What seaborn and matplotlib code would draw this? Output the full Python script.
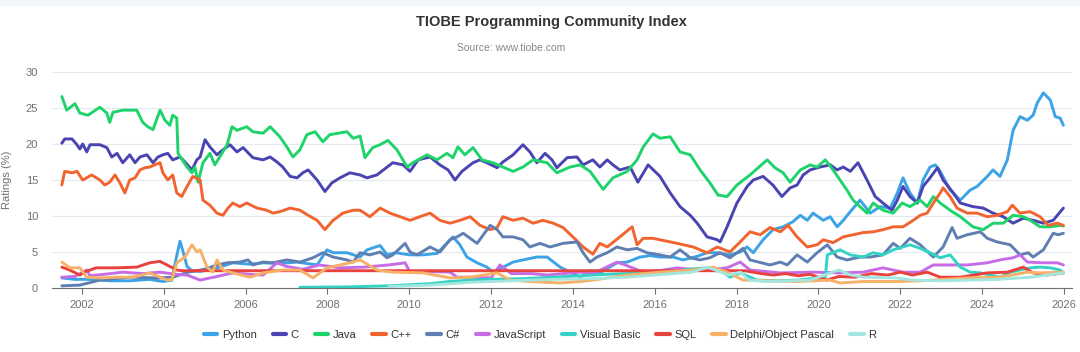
import matplotlib
matplotlib.use("Agg")
import matplotlib.pyplot as plt
from matplotlib.lines import Line2D
from matplotlib.patches import Rectangle
import seaborn as sns
import pandas as pd

# ratings (%), x in fractional years
python_years = [2001.51, 2001.83, 2002.20, 2002.68, 2003.17, 2003.66, 2003.98, 2004.20, 2004.30, 2004.40,
                2004.50, 2004.57, 2004.69, 2004.89, 2005.13, 2005.37, 2005.69, 2006.11, 2006.43, 2006.80,
                2007.26, 2007.75, 2007.99, 2008.14, 2008.48, 2008.80, 2008.97, 2009.29, 2009.46, 2009.66,
                2010.02, 2010.34, 2010.68, 2010.95, 2011.07, 2011.24, 2011.41, 2011.66, 2011.90, 2012.05,
                2012.54, 2012.78, 2013.12, 2013.37, 2013.69, 2013.93, 2014.18, 2014.42, 2014.66, 2015.08,
                2015.33, 2015.64, 2015.89, 2016.13, 2016.45, 2016.69, 2017.04, 2017.28, 2017.53, 2017.84,
                2018.09, 2018.26, 2018.41, 2018.65, 2018.89, 2019.14, 2019.38, 2019.56, 2019.73, 2019.87,
                2020.12, 2020.29, 2020.46, 2020.61, 2020.78, 2021.02, 2021.27, 2021.51, 2021.76, 2021.93,
                2022.07, 2022.24, 2022.42, 2022.56, 2022.73, 2022.86, 2022.98, 2023.22, 2023.47, 2023.71,
                2023.88, 2024.13, 2024.27, 2024.44, 2024.62, 2024.76, 2024.93, 2025.11, 2025.25, 2025.35,
                2025.50, 2025.67, 2025.79, 2025.91, 2025.99]
python_vals = [1.4, 1.2, 1.2, 1.0, 1.0, 1.2, 0.9, 1.1, 4.0, 6.5,
               4.5, 3.0, 2.4, 2.3, 2.6, 2.9, 3.5, 3.3, 3.5, 3.4,
               3.6, 3.2, 5.3, 4.9, 4.9, 4.3, 5.3, 5.9, 4.6, 4.9,
               4.6, 4.6, 4.8, 6.4, 7.1, 6.0, 4.3, 3.5, 2.9, 2.2,
               3.6, 3.9, 4.3, 4.3, 2.9, 2.2, 1.5, 2.4, 2.1, 3.5,
               3.6, 4.3, 4.5, 4.3, 4.3, 3.9, 4.4, 4.9, 4.9, 4.6,
               5.0, 5.7, 4.9, 6.7, 8.1, 8.5, 9.2, 10.1, 9.4, 10.4,
               9.4, 9.9, 8.5, 9.4, 10.6, 12.2, 10.4, 11.3, 11.1, 13.2,
               15.3, 13.2, 11.8, 15.0, 16.8, 17.1, 16.2, 13.6, 12.2, 13.6,
               14.1, 15.5, 16.4, 15.5, 17.8, 21.9, 23.8, 23.3, 24.0, 25.7,
               27.1, 26.1, 23.8, 23.6, 22.6]

c_years = [2001.51, 2001.58, 2001.76, 2001.88, 2001.95, 2002.02, 2002.12, 2002.20, 2002.44, 2002.61,
           2002.73, 2002.86, 2003.00, 2003.17, 2003.30, 2003.42, 2003.59, 2003.74, 2003.86, 2003.98,
           2004.10, 2004.22, 2004.40, 2004.52, 2004.69, 2004.81, 2004.89, 2005.01, 2005.13, 2005.30,
           2005.45, 2005.62, 2005.79, 2005.94, 2006.18, 2006.43, 2006.60, 2006.77, 2006.91, 2007.09,
           2007.26, 2007.40, 2007.53, 2007.75, 2007.94, 2008.11, 2008.31, 2008.55, 2008.80, 2008.97,
           2009.21, 2009.46, 2009.60, 2009.85, 2010.02, 2010.22, 2010.51, 2010.75, 2010.95, 2011.12,
           2011.29, 2011.56, 2011.73, 2011.90, 2012.15, 2012.29, 2012.54, 2012.78, 2012.95, 2013.12,
           2013.32, 2013.49, 2013.61, 2013.86, 2014.10, 2014.25, 2014.49, 2014.66, 2014.84, 2014.98,
           2015.15, 2015.40, 2015.59, 2015.84, 2016.13, 2016.38, 2016.62, 2016.87, 2017.04, 2017.28,
           2017.53, 2017.60, 2017.77, 2018.01, 2018.26, 2018.41, 2018.65, 2018.89, 2019.11, 2019.31,
           2019.48, 2019.63, 2019.80, 2020.04, 2020.29, 2020.46, 2020.61, 2020.78, 2020.97, 2021.19,
           2021.39, 2021.58, 2021.80, 2021.93, 2022.07, 2022.24, 2022.42, 2022.56, 2022.73, 2022.91,
           2023.05, 2023.30, 2023.47, 2023.78, 2024.03, 2024.27, 2024.52, 2024.76, 2025.01, 2025.25,
           2025.50, 2025.74, 2025.99]
c_vals = [20.1, 20.7, 20.7, 19.9, 19.3, 20.0, 18.9, 19.9, 19.9, 19.5,
          18.2, 18.7, 17.4, 18.5, 17.4, 18.2, 18.5, 17.4, 18.2, 18.5,
          18.7, 17.8, 18.2, 17.5, 16.4, 17.8, 18.2, 20.6, 19.6, 18.5,
          19.2, 19.9, 18.9, 19.5, 18.1, 17.8, 18.2, 17.5, 16.8, 15.5,
          15.3, 16.0, 16.4, 15.0, 13.4, 14.6, 15.3, 16.0, 15.7, 15.3,
          15.7, 16.8, 17.4, 17.1, 16.2, 17.8, 18.2, 17.1, 16.4, 15.0,
          16.2, 17.4, 17.8, 17.4, 16.7, 17.5, 18.5, 19.9, 18.9, 17.4,
          18.7, 17.8, 16.7, 18.1, 18.2, 17.1, 17.8, 16.8, 17.8, 17.1,
          16.4, 16.8, 14.7, 17.1, 15.5, 13.2, 11.3, 10.1, 9.0, 7.1,
          6.7, 6.4, 8.5, 11.8, 14.1, 15.0, 15.5, 14.3, 12.7, 13.9,
          14.3, 15.7, 16.4, 16.8, 17.1, 16.4, 16.8, 16.2, 17.4, 15.0,
          12.7, 11.8, 10.8, 12.2, 14.1, 12.7, 11.8, 14.1, 15.3, 16.7,
          15.0, 13.2, 11.8, 11.3, 11.1, 10.4, 9.9, 9.0, 9.7, 9.4,
          9.0, 9.4, 11.1]

java_years = [2001.51, 2001.63, 2001.83, 2001.95, 2002.15, 2002.44, 2002.61, 2002.68, 2002.76, 2003.00,
              2003.34, 2003.49, 2003.61, 2003.74, 2003.91, 2004.03, 2004.15, 2004.22, 2004.32, 2004.35,
              2004.57, 2004.69, 2004.76, 2004.84, 2004.96, 2005.13, 2005.25, 2005.37, 2005.55, 2005.67,
              2005.79, 2006.03, 2006.18, 2006.43, 2006.60, 2006.84, 2007.01, 2007.16, 2007.33, 2007.50,
              2007.70, 2007.89, 2008.06, 2008.48, 2008.63, 2008.80, 2008.92, 2009.11, 2009.29, 2009.48,
              2009.70, 2009.95, 2010.09, 2010.44, 2010.68, 2010.92, 2011.07, 2011.19, 2011.36, 2011.56,
              2011.78, 2012.05, 2012.29, 2012.54, 2012.78, 2013.03, 2013.37, 2013.61, 2013.93, 2014.18,
              2014.42, 2014.74, 2014.98, 2015.33, 2015.57, 2015.72, 2015.96, 2016.13, 2016.38, 2016.62,
              2016.87, 2017.11, 2017.35, 2017.55, 2017.77, 2018.01, 2018.33, 2018.75, 2018.94, 2019.14,
              2019.31, 2019.56, 2019.80, 2019.97, 2020.17, 2020.36, 2020.70, 2020.85, 2021.02, 2021.19,
              2021.34, 2021.58, 2021.83, 2022.05, 2022.24, 2022.49, 2022.66, 2022.81, 2022.98, 2023.22,
              2023.47, 2023.78, 2024.03, 2024.27, 2024.52, 2024.76, 2025.01, 2025.18, 2025.42, 2025.67,
              2025.91, 2025.99]
java_vals = [26.6, 24.7, 25.6, 24.3, 24.0, 25.1, 24.3, 23.0, 24.4, 24.7,
             24.7, 23.0, 22.4, 22.0, 24.7, 23.3, 22.6, 24.0, 23.6, 18.7,
             16.8, 16.0, 16.8, 14.7, 17.4, 18.7, 17.1, 18.2, 19.9, 22.4,
             21.9, 22.4, 21.7, 21.5, 22.4, 21.0, 19.6, 18.2, 19.2, 21.3,
             21.7, 20.3, 21.3, 21.7, 20.8, 21.1, 18.1, 19.5, 19.9, 20.5,
             19.2, 16.8, 17.4, 18.5, 17.8, 18.7, 18.1, 19.6, 18.5, 19.5,
             17.8, 17.4, 16.8, 16.2, 16.8, 17.8, 17.4, 16.0, 16.8, 17.1,
             16.2, 13.7, 15.3, 16.2, 17.8, 19.6, 21.4, 20.8, 21.0, 18.9,
             18.5, 16.4, 14.6, 12.9, 12.7, 14.3, 15.7, 17.8, 16.7, 16.0,
             14.7, 16.4, 17.1, 16.8, 17.8, 16.4, 13.6, 12.2, 11.3, 10.4,
             11.8, 10.8, 10.4, 11.8, 11.3, 12.2, 11.3, 12.7, 11.8, 10.8,
             9.9, 8.5, 8.1, 9.0, 9.0, 10.1, 9.9, 9.4, 8.5, 8.5,
             8.7, 8.6]

cpp_years = [2001.51, 2001.58, 2001.76, 2001.88, 2002.02, 2002.24, 2002.44, 2002.56, 2002.68, 2002.81,
             2002.93, 2003.05, 2003.17, 2003.30, 2003.42, 2003.54, 2003.66, 2003.78, 2003.91, 2003.98,
             2004.10, 2004.22, 2004.32, 2004.44, 2004.57, 2004.71, 2004.89, 2004.96, 2005.13, 2005.30,
             2005.45, 2005.57, 2005.69, 2005.86, 2006.03, 2006.28, 2006.52, 2006.67, 2006.84, 2007.09,
             2007.33, 2007.53, 2007.75, 2007.94, 2008.14, 2008.38, 2008.63, 2008.80, 2009.04, 2009.29,
             2009.53, 2009.78, 2010.02, 2010.26, 2010.51, 2010.75, 2011.00, 2011.24, 2011.49, 2011.73,
             2011.98, 2012.15, 2012.29, 2012.54, 2012.78, 2013.03, 2013.27, 2013.52, 2013.76, 2014.00,
             2014.25, 2014.49, 2014.66, 2014.84, 2015.15, 2015.45, 2015.57, 2015.72, 2015.96, 2016.38,
             2016.55, 2016.94, 2017.28, 2017.53, 2017.84, 2018.09, 2018.33, 2018.58, 2018.82, 2019.07,
             2019.26, 2019.48, 2019.73, 2019.97, 2020.12, 2020.36, 2020.61, 2020.85, 2021.10, 2021.34,
             2021.58, 2021.83, 2022.07, 2022.32, 2022.49, 2022.66, 2022.81, 2022.98, 2023.05, 2023.22,
             2023.39, 2023.64, 2023.88, 2024.13, 2024.37, 2024.62, 2024.74, 2024.93, 2025.18, 2025.42,
             2025.62, 2025.84, 2025.99]
cpp_vals = [14.3, 16.2, 16.0, 16.2, 15.0, 15.7, 15.0, 14.3, 14.7, 15.7,
            14.6, 13.2, 15.0, 15.3, 16.4, 16.7, 16.8, 17.1, 17.4, 16.0,
            15.0, 15.7, 13.2, 12.7, 14.1, 15.5, 15.0, 12.2, 11.5, 10.4,
            10.1, 11.1, 11.8, 11.3, 11.8, 11.1, 10.8, 10.4, 10.6, 11.1,
            10.8, 10.1, 9.4, 8.1, 9.4, 10.4, 10.8, 10.8, 9.9, 11.1,
            10.4, 9.9, 9.4, 9.9, 10.4, 9.4, 9.0, 9.4, 9.9, 8.7,
            8.1, 8.4, 9.9, 9.4, 9.7, 9.0, 9.4, 9.0, 8.4, 7.1,
            5.7, 4.7, 6.2, 5.7, 7.1, 8.5, 6.0, 6.9, 6.9, 6.4,
            6.2, 5.7, 4.9, 5.7, 5.0, 6.4, 7.8, 7.4, 8.4, 7.8,
            8.7, 7.1, 5.7, 6.0, 6.7, 6.3, 7.1, 7.4, 7.7, 7.8,
            8.1, 8.5, 8.5, 9.4, 10.1, 10.4, 11.8, 13.2, 13.9, 12.7,
            11.1, 10.4, 10.4, 9.9, 10.1, 10.6, 11.5, 10.4, 10.6, 9.9,
            8.7, 9.0, 8.7]

csharp_years = [2001.51, 2001.95, 2002.44, 2003.17, 2003.86, 2004.22, 2004.60, 2005.00, 2005.30, 2005.55,
                2005.86, 2006.06, 2006.18, 2006.43, 2006.67, 2007.01, 2007.33, 2007.65, 2007.89, 2008.14,
                2008.48, 2008.63, 2008.80, 2009.04, 2009.29, 2009.46, 2009.60, 2009.90, 2010.02, 2010.19,
                2010.51, 2010.75, 2011.00, 2011.17, 2011.32, 2011.66, 2011.98, 2012.15, 2012.29, 2012.54,
                2012.78, 2012.95, 2013.20, 2013.44, 2013.76, 2014.10, 2014.25, 2014.42, 2014.59, 2014.84,
                2015.08, 2015.33, 2015.57, 2015.81, 2016.13, 2016.38, 2016.62, 2016.87, 2017.11, 2017.35,
                2017.60, 2017.84, 2018.16, 2018.33, 2018.82, 2019.07, 2019.24, 2019.48, 2019.73, 2019.97,
                2020.22, 2020.46, 2020.70, 2021.02, 2021.27, 2021.58, 2021.83, 2022.00, 2022.24, 2022.49,
                2022.81, 2023.05, 2023.27, 2023.39, 2023.64, 2023.96, 2024.13, 2024.37, 2024.69, 2024.93,
                2025.13, 2025.25, 2025.50, 2025.74, 2025.86, 2025.99]
csharp_vals = [0.3, 0.4, 1.1, 1.5, 1.4, 1.5, 2.2, 2.6, 3.2, 3.5,
               3.6, 3.9, 3.2, 3.6, 3.5, 3.9, 3.6, 4.2, 4.9, 4.3,
               3.9, 3.6, 4.9, 4.6, 5.0, 4.2, 4.6, 6.2, 5.0, 4.6,
               5.7, 5.0, 6.7, 7.1, 7.6, 6.2, 8.7, 8.1, 7.1, 7.1,
               6.7, 5.7, 6.2, 5.7, 6.2, 6.4, 4.9, 3.6, 4.3, 4.9,
               5.7, 5.3, 5.5, 4.9, 4.6, 4.3, 5.3, 4.2, 3.9, 4.2,
               4.9, 4.2, 5.5, 3.9, 3.2, 3.6, 3.2, 4.6, 3.6, 4.9,
               6.0, 4.3, 3.9, 4.3, 4.3, 4.6, 6.2, 5.5, 6.9, 6.0,
               4.3, 5.7, 8.4, 6.9, 7.4, 7.8, 6.9, 6.4, 6.0, 4.6,
               4.9, 4.3, 5.3, 7.6, 7.4, 7.6]

js_years = [2001.51, 2001.83, 2002.12, 2002.20, 2002.70, 2003.00, 2003.50, 2003.91, 2004.30, 2004.57,
            2004.89, 2005.30, 2005.69, 2006.10, 2006.43, 2006.77, 2007.00, 2007.40, 2007.80, 2008.30,
            2008.90, 2009.50, 2009.90, 2010.02, 2010.50, 2011.00, 2011.17, 2011.50, 2012.00, 2012.22,
            2012.50, 2013.00, 2013.37, 2014.18, 2014.50, 2015.08, 2015.28, 2015.72, 2016.10, 2016.55,
            2017.04, 2017.43, 2017.77, 2018.09, 2018.33, 2019.07, 2019.87, 2020.53, 2021.10, 2021.58,
            2022.07, 2022.49, 2022.81, 2023.22, 2023.64, 2024.13, 2024.44, 2024.76, 2024.93, 2025.11,
            2025.50, 2025.84, 2025.99]
js_vals = [1.5, 1.6, 2.5, 1.7, 2.0, 2.2, 2.0, 2.2, 1.9, 1.8,
           1.1, 1.6, 2.1, 1.9, 1.8, 3.5, 3.0, 2.6, 3.2, 2.8,
           2.9, 3.2, 3.5, 2.2, 2.3, 2.2, 1.5, 1.5, 1.4, 3.2,
           2.0, 2.0, 1.8, 2.2, 2.0, 3.6, 3.2, 2.2, 2.4, 2.8,
           2.5, 2.6, 2.8, 3.6, 2.5, 2.1, 2.2, 2.1, 2.2, 2.8,
           2.2, 2.2, 3.2, 3.2, 3.2, 3.5, 3.9, 4.2, 4.6, 3.6,
           3.5, 3.5, 3.2]

vb_years = [2007.33, 2008.50, 2009.50, 2010.50, 2011.00, 2011.50, 2012.00, 2012.80, 2013.50, 2014.20,
            2014.80, 2015.30, 2015.80, 2016.30, 2016.80, 2017.30, 2017.60, 2017.84, 2018.09, 2018.50,
            2019.00, 2019.50, 2020.17, 2020.22, 2020.53, 2020.78, 2021.10, 2021.34, 2021.58, 2021.83,
            2022.24, 2022.49, 2022.73, 2022.98, 2023.22, 2023.47, 2023.71, 2023.96, 2024.20, 2024.44,
            2024.69, 2024.93, 2025.18, 2025.42, 2025.67, 2025.91, 2025.99]
vb_vals = [0.1, 0.15, 0.3, 0.6, 0.9, 1.1, 1.2, 1.3, 1.5, 1.7,
           1.9, 2.0, 2.3, 2.0, 2.6, 2.8, 2.5, 1.5, 2.1, 1.1,
           1.0, 1.1, 1.5, 4.6, 5.3, 4.6, 4.3, 4.9, 4.6, 5.3,
           6.0, 5.5, 4.9, 4.2, 4.6, 2.9, 2.2, 2.1, 1.8, 1.5,
           2.2, 2.5, 2.8, 2.9, 2.8, 2.5, 2.1]

sql_years = [2001.51, 2001.70, 2001.95, 2002.05, 2002.35, 2002.86, 2003.34, 2003.66, 2003.91, 2004.08,
             2004.32, 2004.45, 2018.20, 2018.40, 2018.60, 2018.90, 2019.20, 2019.50, 2019.80, 2020.20,
             2020.50, 2020.90, 2021.30, 2021.70, 2022.00, 2022.30, 2022.66, 2022.98, 2023.47, 2024.13,
             2024.62, 2025.01, 2025.25, 2025.59, 2025.99]
sql_vals = [2.9, 2.5, 1.8, 2.2, 2.8, 2.8, 2.9, 3.5, 3.7, 3.2,
            2.5, 2.4, 2.4, 2.2, 2.0, 1.8, 2.0, 1.7, 1.9, 1.1,
            1.6, 1.5, 2.0, 1.8, 2.2, 1.8, 2.2, 1.5, 1.5, 2.1,
            2.2, 2.9, 2.1, 1.8, 2.1]

delphi_years = [2001.51, 2001.71, 2001.95, 2002.12, 2002.44, 2002.86, 2003.25, 2003.66, 2004.08, 2004.20,
                2004.32, 2004.52, 2004.69, 2004.81, 2004.89, 2005.06, 2005.20, 2005.30, 2005.45, 2005.69,
                2006.11, 2006.43, 2006.91, 2007.33, 2007.65, 2007.99, 2008.55, 2008.80, 2009.21, 2009.60,
                2010.34, 2011.00, 2011.49, 2012.15, 2012.46, 2012.95, 2013.69, 2014.18, 2014.49, 2015.33,
                2016.13, 2016.94, 2017.43, 2017.77, 2018.16, 2018.80, 2019.48, 2020.29, 2020.53, 2021.10,
                2021.93, 2022.50, 2023.64, 2024.44, 2025.11, 2025.42, 2025.99]
delphi_vals = [3.6, 2.8, 2.8, 1.5, 1.4, 1.5, 1.5, 2.1, 1.1, 1.2,
               3.5, 4.3, 6.0, 5.0, 5.3, 2.9, 2.2, 3.9, 2.5, 2.1,
               1.5, 2.1, 2.5, 2.5, 1.4, 2.8, 3.5, 3.9, 2.5, 2.2,
               2.1, 1.4, 1.5, 2.1, 1.1, 0.9, 0.7, 0.9, 1.1, 1.8,
               2.2, 2.5, 2.9, 2.2, 1.1, 1.0, 0.9, 1.1, 0.7, 0.9,
               0.9, 1.0, 1.4, 1.5, 2.2, 2.1, 2.2]

r_years = [2009.50, 2010.50, 2011.00, 2011.50, 2012.50, 2013.50, 2014.50, 2015.30, 2016.00, 2016.90,
           2017.30, 2017.80, 2018.10, 2018.30, 2018.70, 2019.30, 2019.80, 2020.50, 2020.80, 2021.10,
           2021.90, 2022.30, 2023.00, 2023.70, 2024.40, 2025.20, 2025.99]
r_vals = [0.2, 0.4, 0.6, 0.8, 1.0, 1.2, 1.3, 1.5, 1.8, 2.2,
          2.9, 1.8, 2.2, 1.1, 0.9, 1.0, 1.1, 2.5, 1.8, 1.5,
          1.4, 1.1, 1.0, 1.1, 1.2, 1.5, 2.1]

languages = ["Python", "C", "Java", "C++", "C#", "JavaScript", "Visual Basic", "SQL",
             "Delphi/Object Pascal", "R"]
colors = ["#3ba3e6", "#4a44b2", "#1fd36b", "#f2642f", "#5f7fb2", "#c66de6", "#32d2c4",
          "#e8423f", "#f7b067", "#a3e6df"]
series = [(python_years, python_vals), (c_years, c_vals), (java_years, java_vals),
          (cpp_years, cpp_vals), (csharp_years, csharp_vals), (js_years, js_vals),
          (vb_years, vb_vals), (sql_years, sql_vals), (delphi_years, delphi_vals),
          (r_years, r_vals)]

frames = []
for lang, (yrs, vals) in zip(languages, series):
    frames.append(pd.DataFrame({"year": yrs, "rating": vals, "language": lang}))
df = pd.concat(frames, ignore_index=True)
palette = dict(zip(languages, colors))

sns.set_theme(style="white")
plt.rcParams["font.family"] = ["Liberation Sans", "DejaVu Sans"]
grey = "#6e7079"

fig = plt.figure(figsize=(10.8, 3.52), dpi=100)
fig.patches.append(Rectangle((0, 1 - 5 / 352), 1, 5 / 352, transform=fig.transFigure,
                             color="#f2f5f9", zorder=0))
ax = fig.add_axes([52 / 1080, 64 / 352, 1020 / 1080, 216 / 352])

sns.lineplot(data=df, x="year", y="rating", hue="language", hue_order=languages,
             palette=palette, estimator=None, linewidth=2.1, legend=False, ax=ax)
for ln in ax.lines:
    ln.set_solid_joinstyle("round")
    ln.set_solid_capstyle("round")

ax.set_xlim(2001.27, 2026.2)
ax.set_ylim(0, 30)
ax.set_xticks(range(2002, 2027, 2))
ax.set_yticks(range(0, 31, 5))
ax.set_xlabel("")
ax.set_ylabel("Ratings (%)", color=grey, fontsize=8, labelpad=10)
ax.grid(axis="y", color="#e4e8f0", linewidth=0.8)
ax.grid(axis="x", visible=False)
ax.set_axisbelow(True)
for side in ["top", "right", "left"]:
    ax.spines[side].set_visible(False)
ax.spines["bottom"].set_color(grey)
ax.spines["bottom"].set_linewidth(0.8)
ax.tick_params(axis="x", colors=grey, labelsize=8, length=4, width=0.8, direction="out",
               bottom=True, pad=5)
ax.tick_params(axis="y", colors=grey, labelsize=8, length=0, pad=10)

fig.text(551 / 1080, 1 - 22 / 352, "TIOBE Programming Community Index", ha="center", va="center",
         fontsize=10.5, fontweight="bold", color="#333333")
fig.text(511 / 1080, 1 - 48 / 352, "Source: www.tiobe.com", ha="center", va="center",
         fontsize=7.5, color="#888888")

handles = [Line2D([], [], color=c, linewidth=3, solid_capstyle="round") for c in colors]
leg = fig.legend(handles, languages, loc="center", bbox_to_anchor=(540 / 1080, 1 - 335 / 352),
                 ncol=10, frameon=False, fontsize=8, handlelength=1.2, handletextpad=0.4,
                 columnspacing=1.45, borderaxespad=0)
for t in leg.get_texts():
    t.set_color("#333333")

fig.savefig("out.png", dpi=100)
